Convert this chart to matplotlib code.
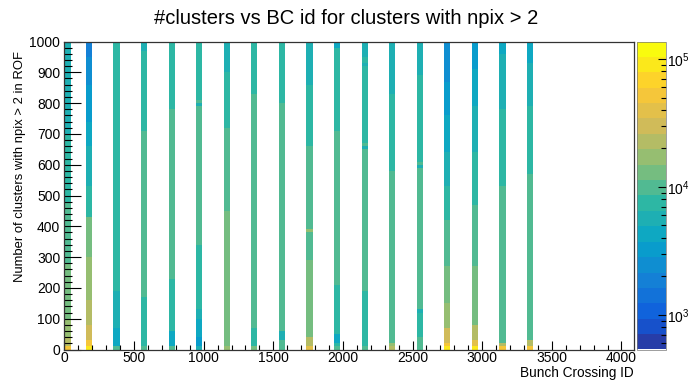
import numpy as np
import matplotlib
matplotlib.use("Agg")
import matplotlib.pyplot as plt
from matplotlib.colors import ListedColormap, LogNorm, LinearSegmentedColormap
from matplotlib.ticker import MultipleLocator, FixedLocator, NullFormatter

plt.rcParams['font.family'] = ['Liberation Sans', 'DejaVu Sans']
plt.rcParams['mathtext.fontset'] = 'custom'
plt.rcParams['mathtext.rm'] = 'Liberation Sans'
plt.rcParams['mathtext.it'] = 'Liberation Sans'

# ---------------- data ----------------
title = "#clusters vs BC id for clusters with npix > 2"
xlabel = "Bunch Crossing ID"
ylabel = "Number of clusters with npix > 2 in ROF"

# first BC of each filled column (bin width in BC)
bc_start = [0, 154, 352, 550, 748, 946, 1144, 1342, 1540, 1738,
            1936, 2134, 2332, 2530, 2728, 2926, 3124, 3322]
bc_width = 44

# y binning (clusters per ROF)
y_bin = 10
y_max = 1000

# per column: upper edges of constant-count runs (bottom -> top) and counts
seg_tops = [
    [10, 40, 100, 280, 480, 700, 1000],
    [10, 30, 80, 160, 300, 430, 530, 660, 740, 860, 950, 1000],
    [10, 70, 190, 1000],
    [10, 175, 710, 970, 1000],
    [10, 65, 235, 780, 1000],
    [10, 40, 100, 135, 338, 790, 800, 810, 1000],
    [10, 450, 716, 897, 1000],
    [10, 72, 827, 1000],
    [30, 64, 798, 1000],
    [10, 40, 295, 376, 386, 659, 857, 1000],
    [10, 24, 52, 213, 708, 978, 1000],
    [10, 194, 646, 657, 668, 919, 935, 946, 1000],
    [10, 24, 578, 827, 1000],
    [40, 120, 128, 136, 143, 588, 598, 608, 890, 1000],
    [10, 24, 67, 148, 267, 419, 527, 640, 760, 868, 1000],
    [10, 35, 83, 267, 468, 640, 789, 908, 1000],
    [10, 24, 527, 779, 960, 1000],
    [10, 35, 567, 789, 927, 1000],
]
seg_counts = [
    [51900, 22600, 17100, 13000, 9850, 7470, 5660],
    [90400, 51900, 29800, 22600, 17100, 13000, 7470, 5660, 4290, 3250, 2460, 1870],
    [9850, 4290, 5660, 7470],
    [9850, 7470, 9850, 7470, 5660],
    [9850, 4290, 7470, 9850, 7470],
    [5660, 3250, 4290, 5660, 7470, 9850, 5660, 9850, 7470],
    [17100, 13000, 9850, 7470, 5660],
    [13000, 7470, 9850, 7470],
    [9850, 6500, 9850, 7470],
    [39400, 22600, 13000, 9850, 17100, 9850, 7470, 5660],
    [9850, 7470, 4290, 7470, 9850, 7470, 4290],
    [9850, 7470, 9850, 5660, 9850, 7470, 5660, 7470, 5660],
    [22600, 17100, 9850, 7470, 5660],
    [9850, 7470, 5660, 9850, 5660, 9850, 5660, 9850, 7470, 5660],
    [90400, 51900, 29800, 17100, 13000, 9850, 7470, 5660, 4290, 3250, 2460],
    [90400, 39400, 22600, 13000, 9850, 7470, 5660, 4290, 3250],
    [51900, 22600, 9850, 7470, 5660, 4290],
    [51900, 22600, 9850, 7470, 5660, 4290],
]

z_min, z_max = 537, 1.37e5
n_levels = 20

# ---------------- build histogram ----------------
yedges = np.arange(0, y_max + y_bin, y_bin)
ycent = 0.5 * (yedges[:-1] + yedges[1:])

xedges = []
cols = []
for i, s in enumerate(bc_start):
    xedges += [s, s + bc_width]
    tops = np.array(seg_tops[i])
    cnts = np.array(seg_counts[i], dtype=float)
    idx = np.searchsorted(tops, ycent, side='right')
    idx = np.clip(idx, 0, len(cnts) - 1)
    cols.append(cnts[idx])
    if i < len(bc_start) - 1:
        cols.append(np.full(len(ycent), np.nan))
Z = np.ma.masked_invalid(np.column_stack(cols))

# ROOT kBird palette
stops = [0.0, 0.125, 0.25, 0.375, 0.5, 0.625, 0.75, 0.875, 1.0]
red = [0.2082, 0.0592, 0.0780, 0.0232, 0.1802, 0.5301, 0.8186, 0.9956, 0.9764]
green = [0.1664, 0.3599, 0.5041, 0.6419, 0.7178, 0.7492, 0.7328, 0.7862, 0.9832]
blue = [0.5293, 0.8684, 0.8385, 0.7914, 0.6425, 0.4662, 0.3499, 0.1968, 0.0539]
bird = LinearSegmentedColormap.from_list(
    'bird', list(zip(stops, zip(red, green, blue))))
pal = ListedColormap([bird(min(1.0, (i + 0.99) / n_levels)) for i in range(n_levels)])
norm = LogNorm(z_min, z_max)

# ---------------- figure ----------------
W, H = 692, 381
fig = plt.figure(figsize=(W / 100, H / 100), dpi=100)
L, R, T, B = 64.4, 634, 41.5, 349.5
ax = fig.add_axes([L / W, 1 - B / H, (R - L) / W, (B - T) / H])
mesh = ax.pcolormesh(xedges, yedges, Z, cmap=pal, norm=norm,
                     shading='flat', antialiased=False, edgecolors='none')
ax.set_xlim(0, 4090)
ax.set_ylim(0, y_max)

ax.xaxis.set_major_locator(MultipleLocator(500))
ax.xaxis.set_minor_locator(MultipleLocator(100))
ax.yaxis.set_major_locator(MultipleLocator(100))
ax.yaxis.set_minor_locator(MultipleLocator(20))
ax.tick_params(axis='x', which='major', direction='in', length=6.5, width=0.8,
               top=False, labelsize=10, pad=0.8)
ax.tick_params(axis='x', which='minor', direction='in', length=3.3, width=0.8, top=False)
ax.tick_params(axis='y', which='major', direction='in', length=12, width=0.8,
               right=False, labelsize=10, pad=3)
ax.tick_params(axis='y', which='minor', direction='in', length=6, width=0.8, right=False)
for sp in ax.spines.values():
    sp.set_linewidth(0.9)
    sp.set_color('#333333')

# colour bar
cax = fig.add_axes([637 / W, 1 - B / H, 29 / W, (B - T) / H])
cb = fig.colorbar(mesh, cax=cax)
cb.outline.set_linewidth(0.5)
cb.outline.set_edgecolor('#777777')
cax.yaxis.set_major_locator(FixedLocator([1e3, 1e4, 1e5]))
minors = [m * 10 ** e for e in (2, 3, 4, 5) for m in range(2, 10)]
cax.yaxis.set_minor_locator(FixedLocator([v for v in minors if z_min <= v <= z_max]))
cax.yaxis.set_minor_formatter(NullFormatter())
cax.set_yticklabels([r'$10^{3}$', r'$10^{4}$', r'$10^{5}$'])
cax.tick_params(axis='y', which='major', direction='in', length=6, width=0.8,
                labelsize=10, pad=1, right=True, left=False)
cax.tick_params(axis='y', which='minor', direction='in', length=3.5, width=0.8,
                right=True, left=False)

fig.text(346 / W, 1 - 18 / H, title, ha='center', va='center', fontsize=14.5)
fig.text(634 / W, 1 - 379.5 / H, xlabel, ha='right', va='bottom', fontsize=9.8)
fig.text(20 / W, 1 - 51 / H, ylabel, ha='center', va='top', rotation=90, fontsize=9.4)

fig.savefig('out.png', dpi=100)
